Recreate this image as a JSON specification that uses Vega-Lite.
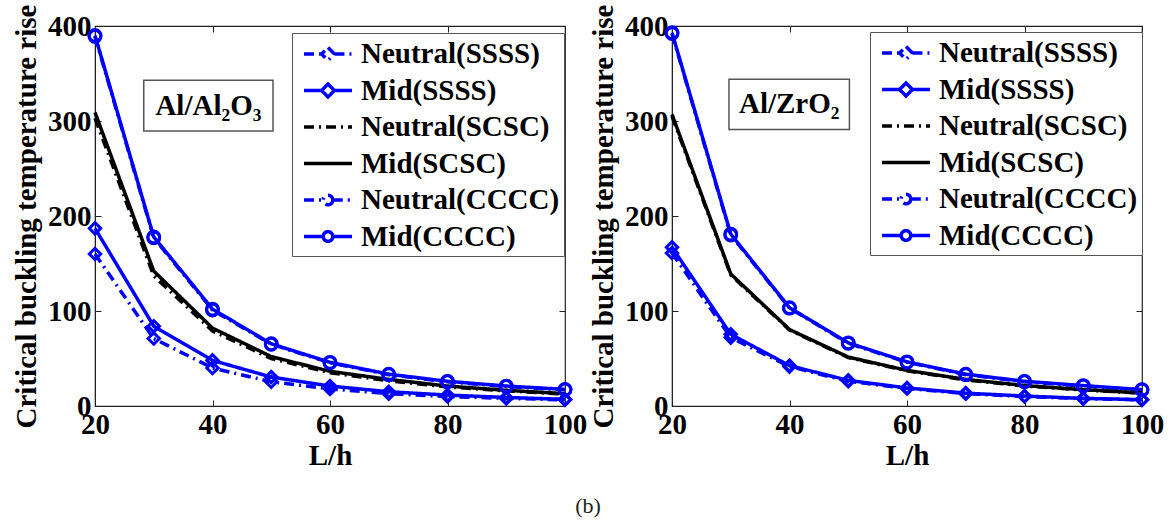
{
  "$schema": "https://vega.github.io/schema/vega-lite/v6.json",
  "background": "white",
  "padding": {"left": 11, "top": 3, "right": 5, "bottom": 5},
  "title": {"text": "(b)", "orient": "bottom", "anchor": "middle", "font": "Liberation Serif", "fontSize": 22, "fontWeight": "normal", "color": "#222", "offset": 25},
  "spacing": 107,
  "bounds": "flush",
  "datasets": {
    "al2o3": [
      {"L": 20, "series": "Mid(CCCC)", "T": 390}, {"L": 30, "series": "Mid(CCCC)", "T": 178}, {"L": 40, "series": "Mid(CCCC)", "T": 102}, {"L": 50, "series": "Mid(CCCC)", "T": 65.5}, {"L": 60, "series": "Mid(CCCC)", "T": 46}, {"L": 70, "series": "Mid(CCCC)", "T": 33.5}, {"L": 80, "series": "Mid(CCCC)", "T": 26}, {"L": 90, "series": "Mid(CCCC)", "T": 21}, {"L": 100, "series": "Mid(CCCC)", "T": 17.5},
      {"L": 20, "series": "Neutral(CCCC)", "T": 389}, {"L": 30, "series": "Neutral(CCCC)", "T": 177}, {"L": 40, "series": "Neutral(CCCC)", "T": 101}, {"L": 50, "series": "Neutral(CCCC)", "T": 65}, {"L": 60, "series": "Neutral(CCCC)", "T": 45.5}, {"L": 70, "series": "Neutral(CCCC)", "T": 33}, {"L": 80, "series": "Neutral(CCCC)", "T": 25.5}, {"L": 90, "series": "Neutral(CCCC)", "T": 20.5}, {"L": 100, "series": "Neutral(CCCC)", "T": 17},
      {"L": 20, "series": "Mid(SCSC)", "T": 309}, {"L": 30, "series": "Mid(SCSC)", "T": 142}, {"L": 40, "series": "Mid(SCSC)", "T": 82}, {"L": 50, "series": "Mid(SCSC)", "T": 52}, {"L": 60, "series": "Mid(SCSC)", "T": 36.5}, {"L": 70, "series": "Mid(SCSC)", "T": 28}, {"L": 80, "series": "Mid(SCSC)", "T": 21}, {"L": 90, "series": "Mid(SCSC)", "T": 16.5}, {"L": 100, "series": "Mid(SCSC)", "T": 13},
      {"L": 20, "series": "Neutral(SCSC)", "T": 303}, {"L": 30, "series": "Neutral(SCSC)", "T": 137}, {"L": 40, "series": "Neutral(SCSC)", "T": 79}, {"L": 50, "series": "Neutral(SCSC)", "T": 50}, {"L": 60, "series": "Neutral(SCSC)", "T": 35}, {"L": 70, "series": "Neutral(SCSC)", "T": 26.5}, {"L": 80, "series": "Neutral(SCSC)", "T": 20}, {"L": 90, "series": "Neutral(SCSC)", "T": 16}, {"L": 100, "series": "Neutral(SCSC)", "T": 12.5},
      {"L": 20, "series": "Mid(SSSS)", "T": 187}, {"L": 30, "series": "Mid(SSSS)", "T": 84}, {"L": 40, "series": "Mid(SSSS)", "T": 48}, {"L": 50, "series": "Mid(SSSS)", "T": 30.5}, {"L": 60, "series": "Mid(SSSS)", "T": 21}, {"L": 70, "series": "Mid(SSSS)", "T": 15}, {"L": 80, "series": "Mid(SSSS)", "T": 11.5}, {"L": 90, "series": "Mid(SSSS)", "T": 9}, {"L": 100, "series": "Mid(SSSS)", "T": 7},
      {"L": 20, "series": "Neutral(SSSS)", "T": 160}, {"L": 30, "series": "Neutral(SSSS)", "T": 71}, {"L": 40, "series": "Neutral(SSSS)", "T": 40}, {"L": 50, "series": "Neutral(SSSS)", "T": 25.5}, {"L": 60, "series": "Neutral(SSSS)", "T": 18}, {"L": 70, "series": "Neutral(SSSS)", "T": 13}, {"L": 80, "series": "Neutral(SSSS)", "T": 10}, {"L": 90, "series": "Neutral(SSSS)", "T": 8}, {"L": 100, "series": "Neutral(SSSS)", "T": 6.5}
    ],
    "zro2": [
      {"L": 20, "series": "Mid(CCCC)", "T": 393}, {"L": 30, "series": "Mid(CCCC)", "T": 181}, {"L": 40, "series": "Mid(CCCC)", "T": 103.5}, {"L": 50, "series": "Mid(CCCC)", "T": 66.5}, {"L": 60, "series": "Mid(CCCC)", "T": 46.5}, {"L": 70, "series": "Mid(CCCC)", "T": 33.5}, {"L": 80, "series": "Mid(CCCC)", "T": 26}, {"L": 90, "series": "Mid(CCCC)", "T": 21.5}, {"L": 100, "series": "Mid(CCCC)", "T": 17.2},
      {"L": 20, "series": "Neutral(CCCC)", "T": 392}, {"L": 30, "series": "Neutral(CCCC)", "T": 180}, {"L": 40, "series": "Neutral(CCCC)", "T": 103}, {"L": 50, "series": "Neutral(CCCC)", "T": 66}, {"L": 60, "series": "Neutral(CCCC)", "T": 46}, {"L": 70, "series": "Neutral(CCCC)", "T": 33}, {"L": 80, "series": "Neutral(CCCC)", "T": 25.5}, {"L": 90, "series": "Neutral(CCCC)", "T": 21}, {"L": 100, "series": "Neutral(CCCC)", "T": 17},
      {"L": 20, "series": "Mid(SCSC)", "T": 307}, {"L": 30, "series": "Mid(SCSC)", "T": 139}, {"L": 40, "series": "Mid(SCSC)", "T": 80.5}, {"L": 50, "series": "Mid(SCSC)", "T": 51.5}, {"L": 60, "series": "Mid(SCSC)", "T": 37.5}, {"L": 70, "series": "Mid(SCSC)", "T": 28}, {"L": 80, "series": "Mid(SCSC)", "T": 21.5}, {"L": 90, "series": "Mid(SCSC)", "T": 17.2}, {"L": 100, "series": "Mid(SCSC)", "T": 13.7},
      {"L": 20, "series": "Neutral(SCSC)", "T": 305}, {"L": 30, "series": "Neutral(SCSC)", "T": 138}, {"L": 40, "series": "Neutral(SCSC)", "T": 80}, {"L": 50, "series": "Neutral(SCSC)", "T": 51}, {"L": 60, "series": "Neutral(SCSC)", "T": 37}, {"L": 70, "series": "Neutral(SCSC)", "T": 27.5}, {"L": 80, "series": "Neutral(SCSC)", "T": 21}, {"L": 90, "series": "Neutral(SCSC)", "T": 17}, {"L": 100, "series": "Neutral(SCSC)", "T": 13.5},
      {"L": 20, "series": "Mid(SSSS)", "T": 167}, {"L": 30, "series": "Mid(SSSS)", "T": 75.5}, {"L": 40, "series": "Mid(SSSS)", "T": 42.5}, {"L": 50, "series": "Mid(SSSS)", "T": 27}, {"L": 60, "series": "Mid(SSSS)", "T": 19}, {"L": 70, "series": "Mid(SSSS)", "T": 13.5}, {"L": 80, "series": "Mid(SSSS)", "T": 10.5}, {"L": 90, "series": "Mid(SSSS)", "T": 8}, {"L": 100, "series": "Mid(SSSS)", "T": 6.7},
      {"L": 20, "series": "Neutral(SSSS)", "T": 161}, {"L": 30, "series": "Neutral(SSSS)", "T": 72}, {"L": 40, "series": "Neutral(SSSS)", "T": 41.5}, {"L": 50, "series": "Neutral(SSSS)", "T": 26}, {"L": 60, "series": "Neutral(SSSS)", "T": 18.5}, {"L": 70, "series": "Neutral(SSSS)", "T": 13}, {"L": 80, "series": "Neutral(SSSS)", "T": 10}, {"L": 90, "series": "Neutral(SSSS)", "T": 7.8}, {"L": 100, "series": "Neutral(SSSS)", "T": 6.5}
    ]
  },
  "resolve": {
    "scale": {"color": "independent", "strokeDash": "independent", "shape": "independent"},
    "legend": {"color": "independent", "strokeDash": "independent", "shape": "independent"}
  },
  "hconcat": [
    {
      "width": 470,
      "height": 380,
      "resolve": {"axis": {"x": "independent", "y": "independent"}},
      "layer": [
        {
          "data": {"values": [{"label": "Al/Al₂O₃"}]},
          "mark": {"type": "rect", "fill": "white", "stroke": "#555", "strokeWidth": 1.5},
          "encoding": {
            "x": {"datum": 28.3, "type": "quantitative", "scale": {"domain": [20, 100], "nice": false}, "axis": {"orient": "top", "labels": false, "title": null, "domain": false, "values": [20, 40, 60, 80, 100]}},
            "x2": {"datum": 50.3},
            "y": {"datum": 343, "type": "quantitative", "scale": {"domain": [0, 400], "nice": false}, "axis": {"orient": "right", "labels": false, "title": null, "domain": false, "values": [0, 100, 200, 300, 400]}},
            "y2": {"datum": 289.5}
          }
        },
        {
          "data": {"values": [{"label": "Al/Al₂O₃"}]},
          "mark": {"type": "text", "font": "Liberation Serif", "fontSize": 29, "fontWeight": "bold", "color": "black"},
          "encoding": {
            "x": {"datum": 39.3, "type": "quantitative", "axis": null},
            "y": {"datum": 316, "type": "quantitative", "axis": null},
            "text": {"field": "label"}
          }
        },
        {
          "data": {"name": "al2o3"},
          "mark": {"type": "line", "strokeWidth": 3.5},
          "encoding": {
            "x": {"field": "L", "type": "quantitative", "axis": {"orient": "bottom", "title": "L/h", "values": [20, 40, 60, 80, 100]}},
            "y": {"field": "T", "type": "quantitative", "axis": {"orient": "left", "title": "Critical buckling temperature rise", "values": [0, 100, 200, 300, 400]}},
            "color": {"field": "series", "type": "nominal", "legend": {"orient": "none", "legendX": 197, "legendY": 7}, "scale": {"domain": ["Neutral(SSSS)", "Mid(SSSS)", "Neutral(SCSC)", "Mid(SCSC)", "Neutral(CCCC)", "Mid(CCCC)"], "range": ["#0000ff", "#0000ff", "#000000", "#000000", "#0000ff", "#0000ff"]}},
            "strokeDash": {"field": "series", "type": "nominal", "legend": {"orient": "none", "legendX": 197, "legendY": 7}, "scale": {"domain": ["Neutral(SSSS)", "Mid(SSSS)", "Neutral(SCSC)", "Mid(SCSC)", "Neutral(CCCC)", "Mid(CCCC)"], "range": [[10, 5, 2, 5], [1, 0], [10, 5, 2, 5], [1, 0], [10, 5, 2, 5], [1, 0]]}}
          }
        },
        {
          "data": {"name": "al2o3"},
          "transform": [{"filter": {"field": "series", "oneOf": ["Neutral(SSSS)", "Mid(SSSS)"]}}],
          "mark": {"type": "point", "shape": "diamond", "filled": false, "color": "#0000ff", "strokeWidth": 3, "size": 130, "opacity": 1},
          "encoding": {
            "x": {"field": "L", "type": "quantitative", "axis": null},
            "y": {"field": "T", "type": "quantitative", "axis": null}
          }
        },
        {
          "data": {"name": "al2o3"},
          "transform": [{"filter": {"field": "series", "oneOf": ["Neutral(CCCC)", "Mid(CCCC)"]}}],
          "mark": {"type": "point", "shape": "circle", "filled": false, "color": "#0000ff", "strokeWidth": 3, "size": 140, "opacity": 1},
          "encoding": {
            "x": {"field": "L", "type": "quantitative", "axis": null},
            "y": {"field": "T", "type": "quantitative", "axis": null}
          }
        },
        {
          "data": {"name": "al2o3"},
          "transform": [{"filter": {"field": "L", "lt": 0}}],
          "mark": {"type": "point", "filled": false, "strokeWidth": 3, "opacity": 1},
          "encoding": {
            "x": {"field": "L", "type": "quantitative", "axis": null},
            "y": {"field": "T", "type": "quantitative", "axis": null},
            "color": {"field": "series", "type": "nominal", "legend": {"orient": "none", "legendX": 197, "legendY": 7}},
            "strokeDash": {"field": "series", "type": "nominal", "legend": {"orient": "none", "legendX": 197, "legendY": 7}},
            "shape": {"field": "series", "type": "nominal", "scale": {"domain": ["Neutral(SSSS)", "Mid(SSSS)", "Neutral(SCSC)", "Mid(SCSC)", "Neutral(CCCC)", "Mid(CCCC)"], "range": ["M-1.6,0L-0.43,0M0.43,0L1.6,0M0,-0.43L0.43,0L0,0.43L-0.43,0Z", "M-1.6,0L-0.43,0M0.43,0L1.6,0M0,-0.43L0.43,0L0,0.43L-0.43,0Z", "M-1.6,0L1.6,0", "M-1.6,0L1.6,0", "M-1.6,0L-0.32,0M0.32,0L1.6,0M0.32,0A0.32,0.32,0,1,1,-0.32,0A0.32,0.32,0,1,1,0.32,0", "M-1.6,0L-0.32,0M0.32,0L1.6,0M0.32,0A0.32,0.32,0,1,1,-0.32,0A0.32,0.32,0,1,1,0.32,0"]}, "legend": {"orient": "none", "legendX": 197, "legendY": 7}}
          }
        }
      ]
    },
    {
      "width": 470,
      "height": 380,
      "resolve": {"axis": {"x": "independent", "y": "independent"}},
      "layer": [
        {
          "data": {"values": [{"label": "Al/ZrO₂"}]},
          "mark": {"type": "rect", "fill": "white", "stroke": "#555", "strokeWidth": 1.5},
          "encoding": {
            "x": {"datum": 29.7, "type": "quantitative", "scale": {"domain": [20, 100], "nice": false}, "axis": {"orient": "top", "labels": false, "title": null, "domain": false, "values": [20, 40, 60, 80, 100]}},
            "x2": {"datum": 50.2},
            "y": {"datum": 344, "type": "quantitative", "scale": {"domain": [0, 400], "nice": false}, "axis": {"orient": "right", "labels": false, "title": null, "domain": false, "values": [0, 100, 200, 300, 400]}},
            "y2": {"datum": 291}
          }
        },
        {
          "data": {"values": [{"label": "Al/ZrO₂"}]},
          "mark": {"type": "text", "font": "Liberation Serif", "fontSize": 29, "fontWeight": "bold", "color": "black"},
          "encoding": {
            "x": {"datum": 39.95, "type": "quantitative", "axis": null},
            "y": {"datum": 317.5, "type": "quantitative", "axis": null},
            "text": {"field": "label"}
          }
        },
        {
          "data": {"name": "zro2"},
          "mark": {"type": "line", "strokeWidth": 3.5},
          "encoding": {
            "x": {"field": "L", "type": "quantitative", "axis": {"orient": "bottom", "title": "L/h", "values": [20, 40, 60, 80, 100]}},
            "y": {"field": "T", "type": "quantitative", "axis": {"orient": "left", "title": "Critical buckling temperature rise", "values": [0, 100, 200, 300, 400]}},
            "color": {"field": "series", "type": "nominal", "legend": {"orient": "none", "legendX": 198, "legendY": 6}, "scale": {"domain": ["Neutral(SSSS)", "Mid(SSSS)", "Neutral(SCSC)", "Mid(SCSC)", "Neutral(CCCC)", "Mid(CCCC)"], "range": ["#0000ff", "#0000ff", "#000000", "#000000", "#0000ff", "#0000ff"]}},
            "strokeDash": {"field": "series", "type": "nominal", "legend": {"orient": "none", "legendX": 198, "legendY": 6}, "scale": {"domain": ["Neutral(SSSS)", "Mid(SSSS)", "Neutral(SCSC)", "Mid(SCSC)", "Neutral(CCCC)", "Mid(CCCC)"], "range": [[10, 5, 2, 5], [1, 0], [10, 5, 2, 5], [1, 0], [10, 5, 2, 5], [1, 0]]}}
          }
        },
        {
          "data": {"name": "zro2"},
          "transform": [{"filter": {"field": "series", "oneOf": ["Neutral(SSSS)", "Mid(SSSS)"]}}],
          "mark": {"type": "point", "shape": "diamond", "filled": false, "color": "#0000ff", "strokeWidth": 3, "size": 130, "opacity": 1},
          "encoding": {
            "x": {"field": "L", "type": "quantitative", "axis": null},
            "y": {"field": "T", "type": "quantitative", "axis": null}
          }
        },
        {
          "data": {"name": "zro2"},
          "transform": [{"filter": {"field": "series", "oneOf": ["Neutral(CCCC)", "Mid(CCCC)"]}}],
          "mark": {"type": "point", "shape": "circle", "filled": false, "color": "#0000ff", "strokeWidth": 3, "size": 140, "opacity": 1},
          "encoding": {
            "x": {"field": "L", "type": "quantitative", "axis": null},
            "y": {"field": "T", "type": "quantitative", "axis": null}
          }
        },
        {
          "data": {"name": "zro2"},
          "transform": [{"filter": {"field": "L", "lt": 0}}],
          "mark": {"type": "point", "filled": false, "strokeWidth": 3, "opacity": 1},
          "encoding": {
            "x": {"field": "L", "type": "quantitative", "axis": null},
            "y": {"field": "T", "type": "quantitative", "axis": null},
            "color": {"field": "series", "type": "nominal", "legend": {"orient": "none", "legendX": 198, "legendY": 6}},
            "strokeDash": {"field": "series", "type": "nominal", "legend": {"orient": "none", "legendX": 198, "legendY": 6}},
            "shape": {"field": "series", "type": "nominal", "scale": {"domain": ["Neutral(SSSS)", "Mid(SSSS)", "Neutral(SCSC)", "Mid(SCSC)", "Neutral(CCCC)", "Mid(CCCC)"], "range": ["M-1.6,0L-0.43,0M0.43,0L1.6,0M0,-0.43L0.43,0L0,0.43L-0.43,0Z", "M-1.6,0L-0.43,0M0.43,0L1.6,0M0,-0.43L0.43,0L0,0.43L-0.43,0Z", "M-1.6,0L1.6,0", "M-1.6,0L1.6,0", "M-1.6,0L-0.32,0M0.32,0L1.6,0M0.32,0A0.32,0.32,0,1,1,-0.32,0A0.32,0.32,0,1,1,0.32,0", "M-1.6,0L-0.32,0M0.32,0L1.6,0M0.32,0A0.32,0.32,0,1,1,-0.32,0A0.32,0.32,0,1,1,0.32,0"]}, "legend": {"orient": "none", "legendX": 198, "legendY": 6}}
          }
        }
      ]
    }
  ],
  "config": {
    "view": {"stroke": "#222", "strokeWidth": 1.2},
    "font": "Liberation Serif",
    "axis": {
      "labelFont": "Liberation Serif", "labelFontSize": 29, "labelFontWeight": "bold", "labelColor": "black",
      "titleFont": "Liberation Serif", "titleFontSize": 29, "titleFontWeight": "bold", "titleColor": "black",
      "grid": false, "domainColor": "#222", "tickColor": "#222", "tickSize": -6, "labelPadding": 10, "tickWidth": 1, "labelFlush": false
    },
    "axisBottom": {"titlePadding": 2, "labelPadding": 10},
    "axisLeft": {"titlePadding": 6},
    "legend": {
      "title": null, "labelFont": "Liberation Serif", "labelFontSize": 29, "labelFontWeight": "bold", "labelColor": "black",
      "symbolSize": 900, "symbolStrokeWidth": 3.5, "symbolOffset": 15, "strokeColor": "#555", "fillColor": "white", "padding": 4,
      "labelOffset": 16, "rowPadding": 4.5, "labelLimit": 400, "symbolOpacity": 1
    }
  }
}
